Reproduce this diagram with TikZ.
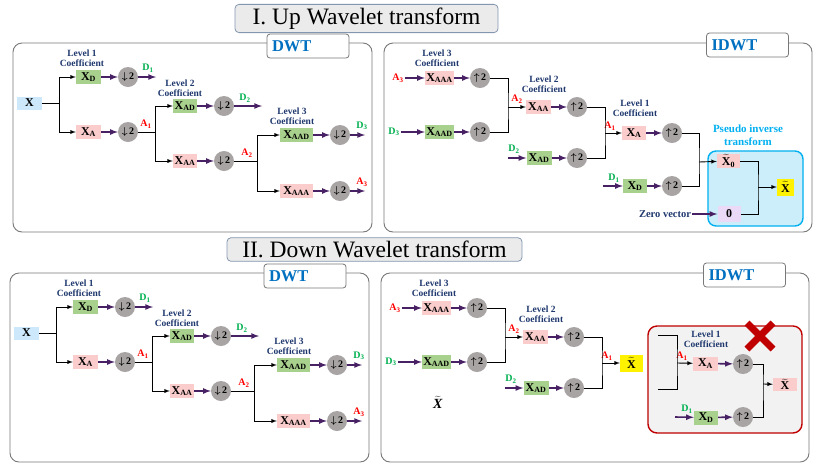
\documentclass[tikz,border=0pt]{standalone}
\usepackage{fontspec}
\setmainfont{Liberation Serif}
\usepackage{xcolor}
\usepackage{tikz}
\usetikzlibrary{arrows}

\definecolor{boxgreen}{RGB}{169,209,142}
\definecolor{boxpink}{RGB}{250,204,204}
\definecolor{boxblue}{RGB}{204,232,250}
\definecolor{circgray}{RGB}{168,164,164}
\definecolor{arrpurple}{RGB}{72,32,100}
\definecolor{lvnavy}{RGB}{31,56,110}
\definecolor{tabblue}{RGB}{0,112,192}
\definecolor{cyanlab}{RGB}{0,176,240}
\definecolor{pseudofill}{RGB}{204,238,250}
\definecolor{zerofill}{RGB}{234,218,248}
\definecolor{dgreen}{RGB}{0,176,80}
\definecolor{dred}{RGB}{192,0,0}
\definecolor{titlefill}{RGB}{235,235,235}
\definecolor{titleedge}{RGB}{132,151,176}
\definecolor{paneledge}{RGB}{120,120,120}
\definecolor{redfill}{RGB}{242,242,242}

% box and sampler texts
\newcommand{\coef}[1]{X\textsubscript{#1}}
\newcommand{\xtil}{\ensuremath{\widetilde{\textbf{X}}}}
\newcommand{\dnsamp}{{\boldmath$\downarrow$}\,2}
\newcommand{\upsamp}{{\boldmath$\uparrow$}\,2}

\tikzset{
  cbox/.style={minimum height=14, inner sep=1pt, font=\fontsize{12}{13}\selectfont\bfseries},
  gbox/.style={cbox, fill=boxgreen},
  pbox/.style={cbox, fill=boxpink},
  xbox/.style={cbox, fill=boxblue, minimum width=25, minimum height=13},
  samp/.style={circle, fill=circgray, minimum size=20, inner sep=0pt,
    font=\fontsize{10}{11}\selectfont\bfseries},
  lvl/.style={align=center, text=lvnavy, inner sep=0pt,
    font=\fontsize{9.5}{10.5}\selectfont\bfseries},
  alab/.style={text=red, inner sep=1pt, font=\fontsize{10}{11}\selectfont\bfseries},
  dlab/.style={text=dgreen, inner sep=1pt, font=\fontsize{10}{11}\selectfont\bfseries},
  parr/.style={->, >=latex, draw=arrpurple, line width=1.6pt},
  barr/.style={->, >=latex, line width=0.9pt},
  bline/.style={line width=0.9pt},
  panelbox/.style={draw=paneledge, rounded corners=9, line width=0.9pt},
  tabbox/.style={draw=paneledge, fill=white, rounded corners=3, line width=0.8pt,
    minimum height=24, text width=72, align=left, inner xsep=5pt,
    text=tabblue, font=\fontsize{16.5}{18}\selectfont\bfseries},
  titlebox/.style={draw=titleedge, fill=titlefill, rounded corners=4, line width=0.8pt,
    font=\fontsize{23.5}{26}\selectfont},
}

\begin{document}
\begin{tikzpicture}[x=1pt, y=-1pt]
  \fill[white] (0,0) rectangle (830,467);
  \useasboundingbox (0,0) rectangle (830,467);

  % titles
  \node[titlebox, minimum width=263, minimum height=27] (t1) at (366.5,18.5) {I. Up Wavelet transform};
  \node[titlebox, minimum width=295, minimum height=23] (t2) at (374.5,249.5) {II. Down Wavelet transform};

  % DWT panels (up and down)
  \foreach \sx/\sy/\pf in {0/0/tl,-3/230/bl}{
  \begin{scope}[shift={(\sx,\sy)}, name prefix/.expanded=\pf-]
    \draw[panelbox] (13,43) rectangle (372,232);
    \node[tabbox] (tab) at (308,46) {DWT};
    \node[xbox] (x) at (29.5,103) {X};
    \coordinate (j1) at (59,103);
    \node[gbox, minimum width=25] (xd) at (88.5,77) {\coef{D}};
    \node[pbox, minimum width=25] (xa) at (88.5,132) {\coef{A}};
    \node[lvl] (lv1) at (82,58) {Level 1\\Coefficient};
    \node[samp] (s1) at (128,77) {\dnsamp};
    \node[samp] (s2) at (128,132) {\dnsamp};
    \coordinate (d1) at (156,77);
    \node[dlab] (d1l) at (148,68) {D\textsubscript{1}};
    \coordinate (j2) at (155,132);
    \node[alab] (a1l) at (146,124) {A\textsubscript{1}};
    \node[gbox, minimum width=24] (xad) at (185,106) {\coef{AD}};
    \node[pbox, minimum width=24] (xaa) at (185,161) {\coef{AA}};
    \node[lvl] (lv2) at (180,88) {Level 2\\Coefficient};
    \node[samp] (s3) at (224,106) {\dnsamp};
    \node[samp] (s4) at (224,161) {\dnsamp};
    \coordinate (d2) at (262,106);
    \node[dlab] (d2l) at (245,98) {D\textsubscript{2}};
    \coordinate (j3) at (257,161);
    \node[alab] (a2l) at (247,153) {A\textsubscript{2}};
    \node[gbox, minimum width=33] (xaad) at (296.5,135) {\coef{AAD}};
    \node[pbox, minimum width=33] (xaaa) at (296.5,191) {\coef{AAA}};
    \node[lvl] (lv3) at (292,116) {Level 3\\Coefficient};
    \node[samp] (s5) at (340,135) {\dnsamp};
    \node[samp] (s6) at (340,191) {\dnsamp};
    \coordinate (d3) at (365,135);
    \coordinate (a3) at (365,191);
    \node[dlab] (d3l) at (362,126) {D\textsubscript{3}};
    \node[alab] (a3l) at (362,182) {A\textsubscript{3}};
    \draw[bline] (x) -- (j1);
    \draw[barr] (j1) |- (xd);
    \draw[barr] (j1) |- (xa);
    \draw[parr] (xd) -- (s1);
    \draw[parr] (xa) -- (s2);
    \draw[parr] (s1) -- (d1);
    \draw[bline] (s2) -- (j2);
    \draw[barr] (j2) |- (xad);
    \draw[barr] (j2) |- (xaa);
    \draw[parr] (xad) -- (s3);
    \draw[parr] (xaa) -- (s4);
    \draw[parr] (s3) -- (d2);
    \draw[bline] (s4) -- (j3);
    \draw[barr] (j3) |- (xaad);
    \draw[barr] (j3) |- (xaaa);
    \draw[parr] (xaad) -- (s5);
    \draw[parr] (xaaa) -- (s6);
    \draw[parr] (s5) -- (d3);
    \draw[parr] (s6) -- (a3);
  \end{scope}}

  % IDWT panels, levels 3 and 2
  \foreach \sx/\sy/\pf in {0/0/tr,-3/230/br}{
  \begin{scope}[shift={(\sx,\sy)}, name prefix/.expanded=\pf-]
    \draw[panelbox] (384,43) rectangle (812,232);
    \node[tabbox] (tab) at (747.5,45) {IDWT};
    \node[alab] (a3l) at (398,78) {A\textsubscript{3}};
    \node[pbox, minimum width=29] (xaaa) at (439.5,78) {\coef{AAA}};
    \node[samp] (u1) at (480,78) {\upsamp};
    \node[dlab] (d3l) at (394,132) {D\textsubscript{3}};
    \node[gbox, minimum width=29] (xaad) at (439.5,132) {\coef{AAD}};
    \node[samp] (u2) at (480,132) {\upsamp};
    \node[lvl] (lv3) at (437,58) {Level 3\\Coefficient};
    \coordinate (j2) at (508,107);
    \node[alab] (a2l) at (517,99) {A\textsubscript{2}};
    \node[pbox, minimum width=25] (xaa) at (538.5,107) {\coef{AA}};
    \node[samp] (u3) at (577,107) {\upsamp};
    \node[lvl] (lv2) at (544,84) {Level 2\\Coefficient};
    \coordinate (d2) at (508,158);
    \node[dlab] (d2l) at (514,149) {D\textsubscript{2}};
    \node[gbox, minimum width=25] (xad) at (539,158) {\coef{AD}};
    \node[samp] (u4) at (577,158) {\upsamp};
    \coordinate (j1) at (605,133);
    \node[alab] (a1l) at (610,126) {A\textsubscript{1}};
    \draw[parr] (a3l) -- (xaaa);
    \draw[parr] (xaaa) -- (u1);
    \draw[parr] (d3l) -- (xaad);
    \draw[parr] (xaad) -- (u2);
    \draw[bline] (u1) -| (j2) |- (u2);
    \draw[barr] (j2) -- (xaa);
    \draw[parr] (xaa) -- (u3);
    \draw[parr] (d2) -- (xad);
    \draw[parr] (xad) -- (u4);
    \draw[bline] (u3) -| (j1) |- (u4);
  \end{scope}}

  % up: level 1 and pseudo inverse
  \begin{scope}[name prefix=tr-]
    \node[pbox, minimum width=24] (xa) at (634,133) {\coef{A}};
    \node[lvl] (lv1) at (635,108) {Level 1\\Coefficient};
    \node[samp] (u5) at (672,133) {\upsamp};
    \coordinate (d1) at (603,186);
    \node[dlab] (d1l) at (614,178) {D\textsubscript{1}};
    \node[gbox, minimum width=24] (xd) at (635,186) {\coef{D}};
    \node[samp] (u6) at (672,186) {\upsamp};
    \coordinate (j0) at (699,162);
    \draw[draw=cyanlab, fill=pseudofill, line width=1.4pt, rounded corners=8] (708,151) rectangle (803,226);
    \node[align=center, text=cyanlab, font=\fontsize{11}{13}\selectfont\bfseries] (plab) at (748,135) {Pseudo inverse\\transform};
    \node[pbox, minimum width=23, minimum height=13] (xt0) at (728.5,161) {\xtil\textsubscript{0}};
    \node[cbox, fill=zerofill, minimum width=23, minimum height=16] (zero) at (729,214) {0};
    \node[text=lvnavy, inner sep=1pt, font=\fontsize{10.5}{12}\selectfont\bfseries] (zv) at (665,214) {Zero vector};
    \coordinate (jp) at (758,187);
    \node[cbox, fill=yellow, minimum width=17, minimum height=17] (xh) at (785.5,187) {\xtil};
    \draw[barr] (j1) -- (xa);
    \draw[parr] (xa) -- (u5);
    \draw[parr] (d1) -- (xd);
    \draw[parr] (xd) -- (u6);
    \draw[bline] (u5) -| (j0) |- (u6);
    \draw[barr] (j0) -- (xt0);
    \draw[parr] (zv) -- (zero);
    \draw[bline] (xt0) -| (jp) |- (zero);
    \draw[barr] (jp) -- (xh);
  \end{scope}

  % down: estimate and crossed out level 1
  \begin{scope}[name prefix=br-]
    \node[cbox, fill=yellow, minimum width=23, minimum height=17] (xh) at (631.5,363) {\xtil};
    \draw[barr] (j1) -- (xh);
    \node[inner sep=1pt, font=\fontsize{14}{15}\selectfont] (xt) at (438,402) {\ensuremath{\widetilde{\textbf{\textit{X}}}}};
    \draw[draw=dred, fill=redfill, line width=1.4pt, rounded corners=9] (648,326) rectangle (802,433);
    \coordinate (k1) at (658,335);
    \coordinate (k2) at (658,389);
    \coordinate (jr) at (677,363);
    \node[alab] (a1r) at (682,356) {A\textsubscript{1}};
    \node[pbox, minimum width=25] (xa) at (705.5,363.5) {\coef{A}};
    \node[lvl] (lv1) at (706,339) {Level 1\\Coefficient};
    \node[samp] (u5) at (743,364) {\upsamp};
    \coordinate (d1) at (675,417);
    \node[dlab] (d1l) at (687,409) {D\textsubscript{1}};
    \node[gbox, minimum width=24] (xd) at (706,417.5) {\coef{D}};
    \node[samp] (u6) at (743,417) {\upsamp};
    \coordinate (j0) at (763,384);
    \node[pbox, minimum width=24, minimum height=13] (xr) at (785,384.5) {\xtil};
    \draw[bline] (k1) -| (jr) |- (k2);
    \draw[barr] (jr) -- (xa);
    \draw[parr] (xa) -- (u5);
    \draw[parr] (d1) -- (xd);
    \draw[parr] (xd) -- (u6);
    \draw[bline] (u5) -| (j0) |- (u6);
    \draw[barr] (j0) -- (xr);
    % the cross
    \draw[dred, line width=7pt] (747,323) -- (773,349) (773,323) -- (747,349);
  \end{scope}
\end{tikzpicture}
\end{document}
